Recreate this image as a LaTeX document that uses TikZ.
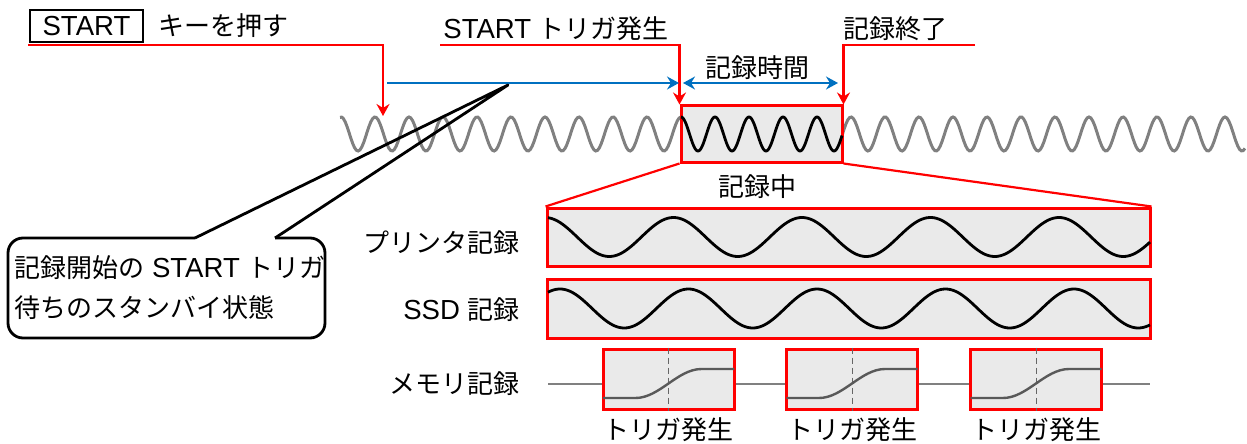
\documentclass[tikz,border=0pt]{standalone}
\usepackage{fontspec}
\setmainfont{Liberation Sans}[Scale=1.06]
\newfontfamily\jp{Noto Sans CJK JP}
\usetikzlibrary{arrows.meta}
\definecolor{recred}{RGB}{255,0,0}
\definecolor{spanblue}{RGB}{0,112,192}
\definecolor{wavegray}{RGB}{128,128,128}
\definecolor{boxfill}{RGB}{234,234,234}

\begin{document}
\begin{tikzpicture}[x=0.5pt,y=-0.5pt,
    >={Stealth[length=6pt,width=6.5pt,inset=2pt]},
    every node/.style={font=\fontsize{13}{20}\selectfont},
    tlabel/.style={inner sep=0pt},
    redln/.style={draw=recred,line width=1.1pt},
    redarr/.style={redln,->},
    blueln/.style={draw=spanblue,line width=1.1pt},
    recbox/.style={draw=recred,line width=1.5pt,fill=boxfill,inner sep=0pt}]
  \useasboundingbox (0,0) rectangle (1247,444);

  % top row: key and trigger labels
  \node[draw,line width=1.3pt,minimum width=56.5pt,minimum height=16pt,inner sep=0pt]
    (startkey) at (86.5,26) {START};
  \node[tlabel,anchor=west] (presskey) at (158,26) {\jp キーを押す};
  \node[tlabel,anchor=west] (trigtxt) at (443,29) {START {\jp トリガ発生}};
  \node[tlabel,anchor=west] (endtxt) at (843,29) {\jp 記録終了};

  % input signal
  \draw[wavegray,line width=1.5pt] plot[domain=340:1245,samples=500]
    (\x,{134-17*cos(360/34*(\x-341))});
  \node[recbox,minimum width=80.5pt,minimum height=28pt] (rec) at (761.5,134) {};
  \draw[black,line width=1.4pt] plot[domain=681:842,samples=200]
    (\x,{134-17*cos(360/34*(\x-341))});
  \node[tlabel] (rectxt) at (757,187) {\jp 記録中};

  % red marker lines
  \coordinate (keyline) at (28,45);
  \coordinate (keytip) at (383,116);
  \coordinate (trigline) at (440,45);
  \coordinate (endline) at (975,45);
  \draw[redarr] (keyline) -| (keytip);
  \draw[redarr] (trigline) -| (rec.north west);
  \draw[redarr] (endline) -| (rec.north east);

  % blue spans
  \coordinate (waitstart) at (387,83);
  \coordinate (waitend) at (679,83);
  \coordinate (spanstart) at (683,83);
  \coordinate (spanend) at (838,83);
  \draw[blueln,->] (waitstart) -- (waitend);
  \draw[blueln,<->] (spanstart) -- (spanend);
  \node[tlabel] (spantxt) at (757,68) {\jp 記録時間};

  % callout
  \coordinate (calltip) at (508,85);
  \draw[line width=1.4pt,line join=round] (275,238) -- (calltip) -- (195,238);
  \draw[line width=1.4pt,rounded corners=7.5pt]
    (195,238) -- (8,238) -- (8,338) -- (325,338) -- (325,238) -- (275,238);
  \node[tlabel,anchor=west,align=left] (waitmsg) at (14,288)
    {{\jp 記録開始の} START {\jp トリガ}\\{\jp 待ちのスタンバイ状態}};

  % printer and SSD
  \node[recbox,minimum width=301.5pt,minimum height=29pt] (prn) at (848.5,237) {};
  \node[recbox,minimum width=301.5pt,minimum height=29.5pt] (ssd) at (848.5,308.5) {};
  \draw[redln] (rec.south west) -- (prn.north west);
  \draw[redln] (rec.south east) -- (prn.north east);
  \draw[black,line width=1.4pt] plot[domain=548:1150,samples=300]
    (\x,{237-19.5*cos(360/128.5*(\x-545))});
  \draw[black,line width=1.4pt] plot[domain=548:1150,samples=300]
    (\x,{308.5-19.5*cos(360/128.5*(\x-560))});
  \node[tlabel,anchor=east] (prnlbl) at (520,243) {\jp プリンタ記録};
  \node[tlabel,anchor=east] (ssdlbl) at (520,310) {SSD {\jp 記録}};
  \node[tlabel,anchor=east] (memlbl) at (520,384) {\jp メモリ記録};

  % memory
  \coordinate (memstart) at (548,384);
  \coordinate (memend) at (1150,384);
  \draw[wavegray,line width=0.8pt] (memstart) -- (memend);
  \foreach \cx/\nm in {668.5/mema,852/memb,1036/memc}{
    \node[recbox,minimum width=65.5pt,minimum height=30pt] (\nm) at (\cx,379) {};
    \draw[densely dashed,black!60,line width=0.5pt] (\nm.north) -- (\nm.south);
    \draw[black!65,line width=1.2pt] ({\cx-65.5},398) -- ({\cx-33},398)
      .. controls ({\cx-9},398) and ({\cx+9},369) .. ({\cx+33},369) -- ({\cx+65.5},369);
    \node[tlabel] (\nm-txt) at (\cx,430) {\jp トリガ発生};
  }
\end{tikzpicture}
\end{document}
